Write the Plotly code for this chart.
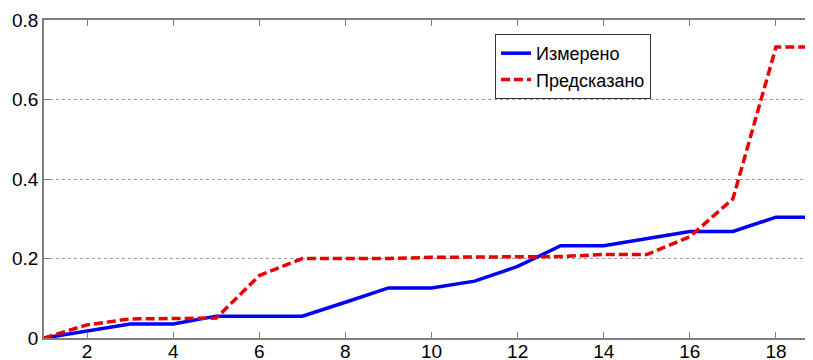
import plotly.graph_objects as go

x_vals = list(range(1, 20))
measured = [0, 0.018, 0.035, 0.035, 0.055, 0.055, 0.055, 0.09, 0.126, 0.126,
            0.143, 0.18, 0.232, 0.232, 0.25, 0.268, 0.268, 0.304, 0.304]
predicted = [0, 0.033, 0.048, 0.048, 0.05, 0.157, 0.2, 0.2, 0.2, 0.203,
             0.203, 0.203, 0.205, 0.21, 0.21, 0.255, 0.35, 0.732, 0.732]
y_tickvals = [0, 0.2, 0.4, 0.6, 0.8]
y_ticktext = ["0", "0.2", "0.4", "0.6", "0.8"]
names = ["Измерено", "Предсказано"]

fig = go.Figure()
fig.add_trace(go.Scatter(x=x_vals, y=measured, mode="lines", name=names[0],
                         line=dict(color="rgb(0,0,245)", width=3.5)))
fig.add_trace(go.Scatter(x=x_vals, y=predicted, mode="lines", name=names[1],
                         line=dict(color="rgb(235,0,0)", width=3.5, dash="9px,4px")))

axis_common = dict(showline=True, linecolor="#7f7f7f", linewidth=1.5,
                   ticks="inside", ticklen=6, tickcolor="#7f7f7f",
                   tickfont=dict(family="Liberation Sans, Arial", size=19, color="black"),
                   zeroline=False, automargin=False)

# The page body has an 8px margin, so the figure is offset by 8px in x and y.
fig.update_layout(
    width=813, height=360,
    margin=dict(l=36, r=8, t=12, b=30),
    paper_bgcolor="white", plot_bgcolor="white",
    xaxis=dict(range=[1, 18.86], tick0=0, dtick=2, showgrid=False, mirror="ticks",
               ticklabelstandoff=-5, **axis_common),
    yaxis=dict(range=[0, 0.8], tickvals=y_tickvals, ticktext=y_ticktext,
               showgrid=True, gridcolor="#9a9a9a",
               griddash="dot", gridwidth=1, **axis_common),
    legend=dict(x=0.5865, y=0.956, xanchor="left", yanchor="top",
                bordercolor="#333", borderwidth=1, bgcolor="white",
                font=dict(family="Liberation Sans, Arial", size=18, color="black"),
                tracegroupgap=0, itemwidth=30),
    showlegend=True,
)

fig.write_html("out.html")
